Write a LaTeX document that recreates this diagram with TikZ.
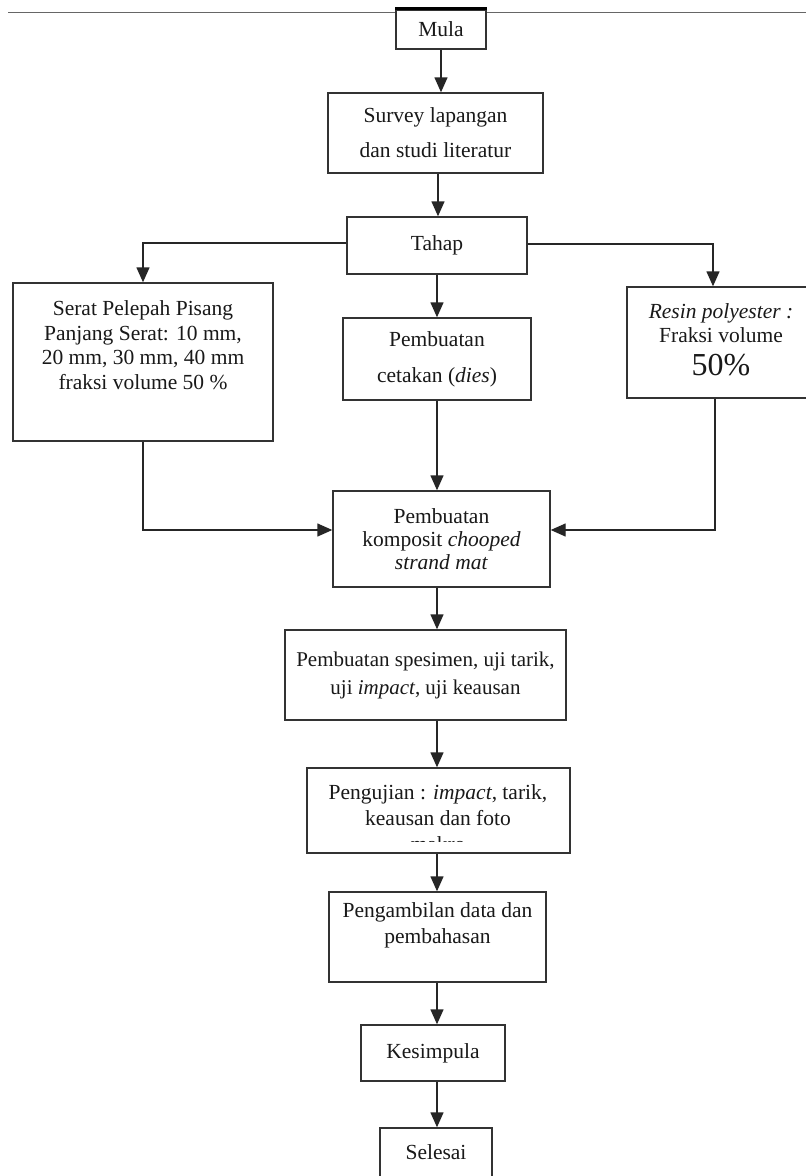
\documentclass[tikz,border=0pt]{standalone}
\usepackage{fontspec}
\setmainfont{Liberation Serif}
\usetikzlibrary{arrows.meta}
\begin{document}
\begin{tikzpicture}[x=1pt,y=-1pt,
  box/.style={draw=black!80, line width=1.4pt, fill=white, inner sep=0pt, align=center, font=\fontsize{21.5}{26}\selectfont, text=black!90},
  txt/.style={inner sep=0pt, align=center, font=\fontsize{21.5}{26}\selectfont, text=black!90},
  arr/.style={draw=black!85, line width=1.4pt, -{Triangle[width=13pt,length=15pt]}},
  topline/.style={draw=black!60, line width=1pt}]
\clip (0,0) rectangle (806,1176);
\fill[white] (0,0) rectangle (806,1176);
\coordinate (spine) at (437,0);
\draw[topline] (8,12) -- (806,12);
% boxes
\node[box, minimum width=90pt, minimum height=39pt] (mula) at (441,29.5) {Mula};
\draw[line width=3pt] ([yshift=1pt]mula.north west) -- ([yshift=1pt]mula.north east);
\node[box, minimum width=215pt, minimum height=80pt] (survey) at (435.5,133) {Survey lapangan\\[9pt]dan studi literatur};
\node[box, minimum width=180pt, minimum height=57pt] (tahap) at (437,245.5) {Tahap};
\node[box, minimum width=260pt, minimum height=158pt] (serat) at (143,362) {};
\node[txt, font=\fontsize{21.5}{24.5}\selectfont] (serattext) at (143,345) {Serat Pelepah Pisang\\Panjang Serat: 10 mm,\\20 mm, 30 mm, 40 mm\\fraksi volume 50 \%};
\node[box, minimum width=188pt, minimum height=82pt] (cetakan) at (437,359) {Pembuatan\\[10pt]cetakan (\textit{dies})};
\node[box, minimum width=188pt, minimum height=111pt] (resin) at (721,342.5) {};
\node[txt, font=\fontsize{21.5}{24}\selectfont] (resintext) at (721,340) {\textit{Resin polyester :}\\Fraksi volume\\[9pt]{\fontsize{32}{30}\selectfont 50\%}};
\node[box, minimum width=217pt, minimum height=96pt, font=\fontsize{21.5}{23}\selectfont] (komposit) at (441.5,539) {Pembuatan\\komposit \textit{chooped}\\\textit{strand mat}};
\node[box, minimum width=281pt, minimum height=90pt, font=\fontsize{21}{28}\selectfont] (spesimen) at (425.5,675) {Pembuatan spesimen, uji tarik,\\uji \textit{impact}, uji keausan};
\node[box, minimum width=263pt, minimum height=85pt] (pengujian) at (438.5,810.5) {};
\begin{scope}
\clip (307,768) rectangle (570,841.5);
\node[txt] (pengujiantext) at (438,818) {Pengujian : \textit{impact}, tarik,\\keausan dan foto\\makro};
\end{scope}
\node[box, minimum width=217pt, minimum height=90pt] (pengambilan) at (437.5,937) {};
\node[txt] (pengambilantext) at (437.5,925) {Pengambilan data dan\\pembahasan};
\node[box, minimum width=144pt, minimum height=56pt] (kesimpula) at (433,1053) {Kesimpula};
\node[box, minimum width=112pt, minimum height=62pt] (selesai) at (436,1159) {};
\node[txt] (selesaitext) at (436,1152) {Selesai};
% connectors
\draw[arr] (mula.south) -- (mula.south |- survey.north);
\draw[arr] (survey.south -| 438,0) -- (tahap.north -| 438,0);
\draw[arr] (tahap.south -| spine) -- (cetakan.north -| spine);
\draw[arr] ([yshift=2.5pt]tahap.west) -| (serat.north);
\draw[arr] ([yshift=1.5pt]tahap.east) -| ([xshift=-8pt]resin.north);
\draw[arr] (serat.south) |- ([yshift=9pt]komposit.west);
\draw[arr] ([xshift=-6pt]resin.south) |- ([yshift=9pt]komposit.east);
\draw[arr] (cetakan.south -| spine) -- (komposit.north -| spine);
\draw[arr] (komposit.south -| spine) -- (spesimen.north -| spine);
\draw[arr] (spesimen.south -| spine) -- (pengujian.north -| spine);
\draw[arr] (pengujian.south -| spine) -- (pengambilan.north -| spine);
\draw[arr] (pengambilan.south -| spine) -- (kesimpula.north -| spine);
\draw[arr] (kesimpula.south -| spine) -- (selesai.north -| spine);
\end{tikzpicture}
\end{document}
